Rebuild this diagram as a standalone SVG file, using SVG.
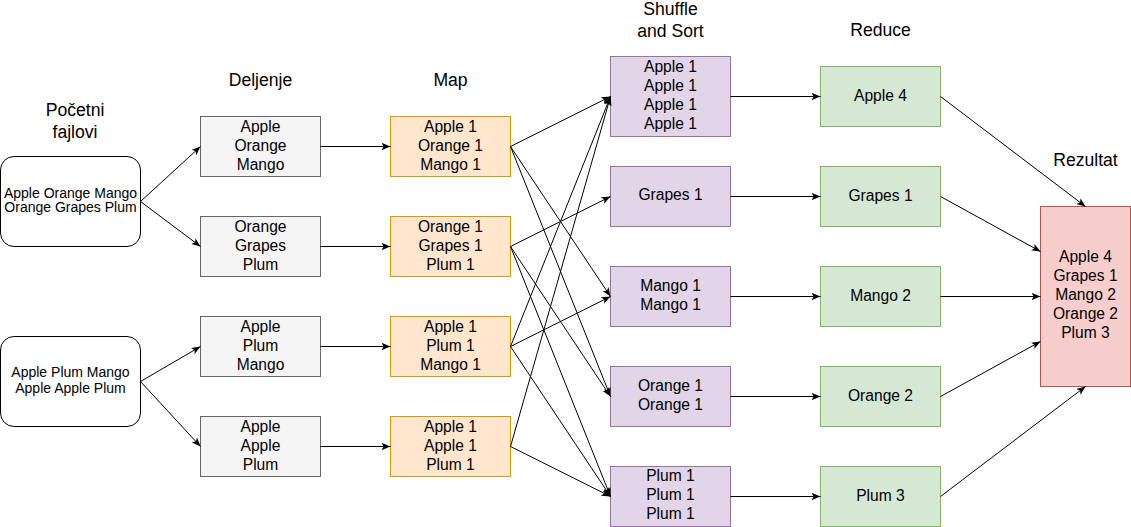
<svg xmlns="http://www.w3.org/2000/svg" width="1131" height="527" viewBox="0 0 1131 527">
<style>
text{font-family:"Liberation Sans",Arial,Helvetica,sans-serif;fill:#000;text-anchor:middle}
.h{font-size:17.6px}
.t{font-size:15.6px}
.s{font-size:14px}
.start{fill:#fff;stroke:#000;stroke-width:1}
.split{fill:#f5f5f5;stroke:#666666;stroke-width:1}
.map{fill:#ffe6cc;stroke:#d79b00;stroke-width:1}
.shuf{fill:#e1d5e7;stroke:#9673a6;stroke-width:1}
.red{fill:#d5e8d4;stroke:#82b366;stroke-width:1}
.res{fill:#f8cecc;stroke:#b85450;stroke-width:1}
.c line{stroke:#000;stroke-width:1;fill:none;marker-end:url(#arr)}
</style>
<defs>
<marker id="arr" markerUnits="userSpaceOnUse" viewBox="0 0 10 8" refX="10" refY="4" markerWidth="9" markerHeight="7.2" orient="auto">
<path d="M0,0 L10,4 L0,8 L2.5,4 Z" fill="#000"/>
</marker>
</defs>

<g id="headers">
<text class="h" x="75" y="116">Početni</text>
<text class="h" x="75" y="137.5">fajlovi</text>
<text class="h" x="260.5" y="86">Deljenje</text>
<text class="h" x="450.5" y="86">Map</text>
<text class="h" x="670.5" y="15">Shuffle</text>
<text class="h" x="670.5" y="37">and Sort</text>
<text class="h" x="880.5" y="36">Reduce</text>
<text class="h" x="1085.5" y="166">Rezultat</text>
</g>

<g id="start1"><rect class="start" x="0.5" y="156.5" width="140" height="90" rx="13.5"/>
<text class="s" x="70.5" y="197.5">Apple Orange Mango</text><text class="s" x="70.5" y="211.5">Orange Grapes Plum</text></g>
<g id="start2"><rect class="start" x="0.5" y="336.5" width="140" height="90" rx="13.5"/>
<text class="s" x="70.5" y="376.5">Apple Plum Mango</text><text class="s" x="70.5" y="393.3">Apple Apple Plum</text></g>

<g id="split1"><rect class="split" x="200.5" y="116.5" width="120" height="60"/>
<text class="t" x="260.5" y="131.5">Apple</text><text class="t" x="260.5" y="150.5">Orange</text><text class="t" x="260.5" y="169.5">Mango</text></g>
<g id="split2"><rect class="split" x="200.5" y="216.5" width="120" height="60"/>
<text class="t" x="260.5" y="231.5">Orange</text><text class="t" x="260.5" y="250.5">Grapes</text><text class="t" x="260.5" y="269.5">Plum</text></g>
<g id="split3"><rect class="split" x="200.5" y="316.5" width="120" height="60"/>
<text class="t" x="260.5" y="331.5">Apple</text><text class="t" x="260.5" y="350.5">Plum</text><text class="t" x="260.5" y="369.5">Mango</text></g>
<g id="split4"><rect class="split" x="200.5" y="416.5" width="120" height="60"/>
<text class="t" x="260.5" y="431.5">Apple</text><text class="t" x="260.5" y="450.5">Apple</text><text class="t" x="260.5" y="469.5">Plum</text></g>

<g id="map1"><rect class="map" x="390.5" y="116.5" width="120" height="60"/>
<text class="t" x="450.5" y="131.5">Apple 1</text><text class="t" x="450.5" y="150.5">Orange 1</text><text class="t" x="450.5" y="169.5">Mango 1</text></g>
<g id="map2"><rect class="map" x="390.5" y="216.5" width="120" height="60"/>
<text class="t" x="450.5" y="231.5">Orange 1</text><text class="t" x="450.5" y="250.5">Grapes 1</text><text class="t" x="450.5" y="269.5">Plum 1</text></g>
<g id="map3"><rect class="map" x="390.5" y="316.5" width="120" height="60"/>
<text class="t" x="450.5" y="331.5">Apple 1</text><text class="t" x="450.5" y="350.5">Plum 1</text><text class="t" x="450.5" y="369.5">Mango 1</text></g>
<g id="map4"><rect class="map" x="390.5" y="416.5" width="120" height="60"/>
<text class="t" x="450.5" y="431.5">Apple 1</text><text class="t" x="450.5" y="450.5">Apple 1</text><text class="t" x="450.5" y="469.5">Plum 1</text></g>

<g id="shuf-apple"><rect class="shuf" x="610.5" y="56.5" width="120" height="80"/>
<text class="t" x="670.5" y="71.5">Apple 1</text><text class="t" x="670.5" y="90.5">Apple 1</text><text class="t" x="670.5" y="109.5">Apple 1</text><text class="t" x="670.5" y="128.5">Apple 1</text></g>
<g id="shuf-grapes"><rect class="shuf" x="610.5" y="166.5" width="120" height="60"/>
<text class="t" x="670.5" y="200">Grapes 1</text></g>
<g id="shuf-mango"><rect class="shuf" x="610.5" y="266.5" width="120" height="60"/>
<text class="t" x="670.5" y="291">Mango 1</text><text class="t" x="670.5" y="310">Mango 1</text></g>
<g id="shuf-orange"><rect class="shuf" x="610.5" y="366.5" width="120" height="60"/>
<text class="t" x="670.5" y="391">Orange 1</text><text class="t" x="670.5" y="410">Orange 1</text></g>
<g id="shuf-plum"><rect class="shuf" x="610.5" y="466.5" width="120" height="60"/>
<text class="t" x="670.5" y="480.5">Plum 1</text><text class="t" x="670.5" y="499.5">Plum 1</text><text class="t" x="670.5" y="518.5">Plum 1</text></g>

<g id="red-apple"><rect class="red" x="820.5" y="66.5" width="120" height="60"/><text class="t" x="880.5" y="100.5">Apple 4</text></g>
<g id="red-grapes"><rect class="red" x="820.5" y="166.5" width="120" height="60"/><text class="t" x="880.5" y="200.5">Grapes 1</text></g>
<g id="red-mango"><rect class="red" x="820.5" y="266.5" width="120" height="60"/><text class="t" x="880.5" y="300.5">Mango 2</text></g>
<g id="red-orange"><rect class="red" x="820.5" y="366.5" width="120" height="60"/><text class="t" x="880.5" y="400.5">Orange 2</text></g>
<g id="red-plum"><rect class="red" x="820.5" y="466.5" width="120" height="60"/><text class="t" x="880.5" y="500.5">Plum 3</text></g>

<g id="result"><rect class="res" x="1040.5" y="206.5" width="90" height="180"/>
<text class="t" x="1085.5" y="261.5">Apple 4</text><text class="t" x="1085.5" y="280.5">Grapes 1</text><text class="t" x="1085.5" y="299.5">Mango 2</text><text class="t" x="1085.5" y="318.5">Orange 2</text><text class="t" x="1085.5" y="337.5">Plum 3</text></g>

<g id="connectors" class="c">
<line x1="140.5" y1="201.5" x2="200.5" y2="146.5"/>
<line x1="140.5" y1="201.5" x2="200.5" y2="246.5"/>
<line x1="140.5" y1="381.5" x2="200.5" y2="346.5"/>
<line x1="140.5" y1="381.5" x2="200.5" y2="446.5"/>
<line x1="320.5" y1="146.5" x2="390.5" y2="146.5"/>
<line x1="320.5" y1="246.5" x2="390.5" y2="246.5"/>
<line x1="320.5" y1="346.5" x2="390.5" y2="346.5"/>
<line x1="320.5" y1="446.5" x2="390.5" y2="446.5"/>
<line x1="510.5" y1="146.5" x2="610.5" y2="96.5"/>
<line x1="510.5" y1="146.5" x2="610.5" y2="296.5"/>
<line x1="510.5" y1="146.5" x2="610.5" y2="396.5"/>
<line x1="510.5" y1="246.5" x2="610.5" y2="196.5"/>
<line x1="510.5" y1="246.5" x2="610.5" y2="396.5"/>
<line x1="510.5" y1="246.5" x2="610.5" y2="496.5"/>
<line x1="510.5" y1="346.5" x2="610.5" y2="96.5"/>
<line x1="510.5" y1="346.5" x2="610.5" y2="296.5"/>
<line x1="510.5" y1="346.5" x2="610.5" y2="496.5"/>
<line x1="510.5" y1="446.5" x2="610.5" y2="96.5"/>
<line x1="510.5" y1="446.5" x2="610.5" y2="496.5"/>
<line x1="730.5" y1="96.5" x2="820.5" y2="96.5"/>
<line x1="730.5" y1="196.5" x2="820.5" y2="196.5"/>
<line x1="730.5" y1="296.5" x2="820.5" y2="296.5"/>
<line x1="730.5" y1="396.5" x2="820.5" y2="396.5"/>
<line x1="730.5" y1="496.5" x2="820.5" y2="496.5"/>
<line x1="940.5" y1="96.5" x2="1085.5" y2="206.5"/>
<line x1="940.5" y1="196.5" x2="1040.5" y2="251.5"/>
<line x1="940.5" y1="296.5" x2="1040.5" y2="296.5"/>
<line x1="940.5" y1="396.5" x2="1040.5" y2="341.5"/>
<line x1="940.5" y1="496.5" x2="1085.5" y2="386.5"/>
</g>
</svg>
